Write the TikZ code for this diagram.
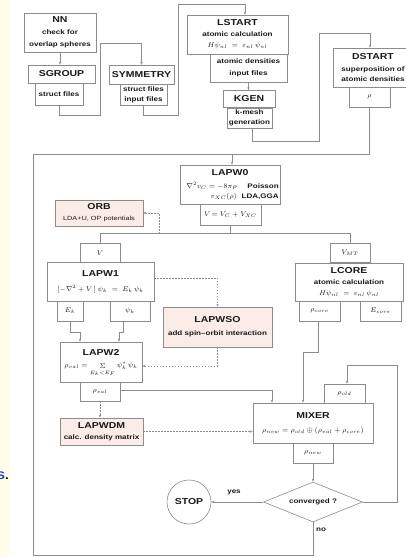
\documentclass[tikz,border=0pt]{standalone}
\usepackage{fontspec}
\setmainfont{Liberation Sans}[FakeStretch=1.22]
\usetikzlibrary{arrows.meta,shapes.geometric}
\definecolor{ln}{RGB}{140,140,140}
\definecolor{pinkfill}{RGB}{252,236,232}
\definecolor{stripy}{RGB}{255,253,232}
\definecolor{sblue}{RGB}{30,60,220}
\definecolor{txt}{RGB}{25,25,25}
\newcommand\Ttl{\fontsize{8.6}{10}\selectfont\bfseries}
\newcommand\Sbt{\fontsize{6.6}{9}\selectfont\bfseries}
\newcommand\Mth{\fontsize{7}{9}\selectfont}
\begin{document}
\begin{tikzpicture}[x=1pt,y=-1pt,
 box/.style={draw=ln, line width=0.6pt, fill=white, inner sep=0pt, align=center, text=txt},
 pbox/.style={box, fill=pinkfill},
 ttl/.style={font=\Ttl, text=txt, inner sep=0pt},
 sub/.style={font=\Sbt, text=txt, inner sep=0pt, align=center},
 mth/.style={font=\Mth, text=txt, inner sep=0pt},
 conn/.style={draw=ln, line width=0.6pt},
 arr/.style={conn, -{Stealth[length=3pt,width=2.4pt]}},
 dconn/.style={conn, dash pattern=on 1.5pt off 1.5pt},
 darr/.style={dconn, -{Stealth[length=3pt,width=2.4pt]}},
]
\fill[white] (0,0) rectangle (405,557);
\useasboundingbox (0,0) rectangle (405,557);
\fill[stripy] (0,0) rectangle (9,557);
\node[anchor=east, font=\fontsize{11}{12}\selectfont\bfseries, inner sep=0pt] (sdot) at (9,476) {\textcolor{sblue}{S}.};

% top chain
\node[box, minimum width=72, minimum height=39] (nn) at (60,32.5) {\Ttl NN\\\Sbt check for\\\Sbt overlap spheres};
\node[box, minimum width=67, minimum height=18] (sgroup) at (61.5,74) {\Ttl SGROUP};
\node[box, minimum width=48, minimum height=22] (sgf) at (59,94) {\Sbt struct files};
\node[box, minimum width=65, minimum height=19] (sym) at (141.5,74.5) {\Ttl SYMMETRY};
\node[box, minimum width=47, minimum height=21] (symf) at (143.5,94.5) {\Sbt struct files\\[-2pt]\Sbt input files};
\node[box, minimum width=101, minimum height=39] (lstart) at (237.5,34.5) {\Ttl LSTART\\[-1pt]\Sbt atomic calculation\\[-1pt]\Mth $H\psi_{nl} \;=\; \varepsilon_{nl}\,\psi_{nl}$};
\node[box, minimum width=77, minimum height=28] (lsf) at (248.5,68) {\Sbt atomic densities\\\Sbt input files};
\node[box, minimum width=52, minimum height=17] (kgen) at (249,99) {\Ttl KGEN};
\node[box, minimum width=45, minimum height=20] (kmesh) at (249.5,118) {\Sbt k-mesh\\[-2pt]\Sbt generation};
\node[box, minimum width=80, minimum height=39] (dstart) at (373,67.5) {\Ttl DSTART\\\Sbt superposition of\\[-2pt]\Sbt atomic densities};
\node[box, minimum width=41, minimum height=20] (rho) at (369.5,97) {\Mth $\rho$};

% LAPW0
\node[box, minimum width=100, minimum height=39] (lapw0) at (230,184.5) {};
\node[ttl] (l0t) at (230,173) {LAPW0};
\node[mth, anchor=east] (l0e1) at (237,186.5) {$\nabla^2 v_C = -8\pi\rho$};
\node[mth, anchor=east] (l0e2) at (237,197) {$v_{XC}(\rho)$};
\node[sub, anchor=east] (l0p) at (279,186.5) {Poisson};
\node[sub, anchor=east] (l0l) at (279,197) {LDA,GGA};
\node[box, minimum width=61, minimum height=21] (vsum) at (230.5,214.5) {\Mth $V\!=V_C+V_{XC}$};

\node[pbox, minimum width=88, minimum height=26] (orb) at (99,213) {\Ttl ORB\\[-1pt]\fontsize{6}{7}\selectfont LDA+U, OP potentials};
\node[box, minimum width=40, minimum height=20] (vpot) at (100,253) {\Mth $V$};
\node[box, minimum width=40, minimum height=19] (vmt) at (350,252.5) {\Mth $V_{MT}$};

% LAPW1 / LAPW2
\node[box, minimum width=107, minimum height=39] (lapw1) at (100.5,281.5) {\Ttl LAPW1\\[3pt]\Mth $[-\nabla^2 + V\,]\,\psi_k \;=\; E_k\,\psi_k$};
\node[box, minimum width=26, minimum height=20] (ek) at (70,311) {\Mth $E_k$};
\node[box, minimum width=40, minimum height=20] (psi) at (130,311) {\Mth $\psi_k$};
\node[pbox, minimum width=109, minimum height=40] (lapwso) at (217.5,327) {\Ttl LAPWSO\\[1pt]\Sbt add spin--orbit interaction};
\node[box, minimum width=82, minimum height=40] (lapw2) at (101,362) {};
\node[ttl] (l2t) at (101,352) {LAPW2};
\node[mth] (l2e) at (101,369.5) {$\rho_{val} = \mathop{\Sigma}\limits_{\scriptscriptstyle E_k<E_F}\psi_k^*\,\psi_k$};
\node[box, minimum width=40, minimum height=19] (rval) at (100,391.5) {\Mth $\rho_{val}$};
\node[pbox, minimum width=83, minimum height=27] (lapwdm) at (101.5,431.5) {\Ttl LAPWDM\\[-1pt]\Sbt calc. density matrix};

% LCORE / MIXER
\node[box, minimum width=108, minimum height=38] (lcore) at (349,282) {\Ttl LCORE\\[-1pt]\Sbt atomic calculation\\[-1pt]\Mth $H\psi_{nl} \;=\; \varepsilon_{nl}\,\psi_{nl}$};
\node[box, minimum width=41, minimum height=20] (rcore) at (319.5,311) {\Mth $\rho_{core}$};
\node[box, minimum width=41, minimum height=20] (ecore) at (380.5,311) {\Mth $E_{core}$};
\node[box, minimum width=120, minimum height=40] (mixer) at (313,423) {\Ttl MIXER\\[2pt]\Mth $\rho_{new} = \rho_{old} \oplus (\rho_{val} + \rho_{core})$};
\node[box, minimum width=41, minimum height=19] (rold) at (344.5,393.5) {\Mth $\rho_{old}$};
\node[box, minimum width=40, minimum height=20] (rnew) at (313,453) {\Mth $\rho_{new}$};
\node[draw=ln, line width=0.6pt, fill=white, diamond, aspect=2.5, minimum width=99, minimum height=40, inner sep=0pt, text=txt] (conv) at (313,502) {\Sbt converged ?};
\node[draw=ln, line width=0.6pt, fill=white, circle, minimum size=44, inner sep=0pt, text=txt] (stop) at (189,502) {\Ttl STOP};
\node[sub] (yes) at (234,492) {yes};
\node[sub] (no) at (321,530) {no};

% connectors top
\draw[arr] (nn.south) -- (nn.south |- sgroup.north);
\draw[arr] (sgf.south) |- (100,115) -- (100,43) -| (sym.north);
\draw[arr] (symf.south) |- (178,115) -- (178,4) -| ([xshift=7.5pt]lstart.north);
\draw[arr] (lsf.south) -- (lsf.south |- kgen.north);
\draw[arr] ([xshift=2.5pt]kmesh.south) |- (319,141) -- (319,33) -| ([xshift=-3pt]dstart.north);
\draw[conn] (rho.south) |- (33,154) -- (33,555) -| (conv.south);
\coordinate (jn) at (232,154);
\draw[arr] (jn) -- (jn |- lapw0.north);

% potentials
\draw[conn] (vsum.south) -- ++(0,8.5);
\draw[conn] (vpot.north) |- (vmt.north |- 0,233.5) -- (vmt.north);
\coordinate (orbj) at (159,233.5);
\draw[darr] (orbj) |- (orb.east);

% LAPW1 / LAPW2
\draw[darr] ([yshift=3.5pt]lapw1.east) -| (lapwso.north);
\draw[darr] (lapwso.south) |- ([yshift=-4pt]lapw2.east);
\draw[arr] (ek.south) -- ++(0,11) -| ([xshift=-21pt]lapw2.north);
\draw[arr] ([xshift=-7pt]psi.south) -- ++(0,11) -| ([xshift=18pt]lapw2.north);
\draw[arr] ([yshift=1.5pt]rval.east) -| ([xshift=-41pt]mixer.north);
\draw[darr] (rval.south) -- (rval.south |- lapwdm.north);
\draw[darr] (lapwdm.east) -- (lapwdm.east -| mixer.west);

% LCORE / MIXER
\draw[arr] ([xshift=-1.5pt]rcore.south) -- ++(0,31) -| ([xshift=-10pt]mixer.north);
\draw[arr] (rnew.south) -- (conv.north);
\draw[arr] (conv.west) -- (stop.east);
\draw[arr] (conv.east) -| (397,365) -| ([xshift=2.5pt]rold.north);
\end{tikzpicture}
\end{document}
